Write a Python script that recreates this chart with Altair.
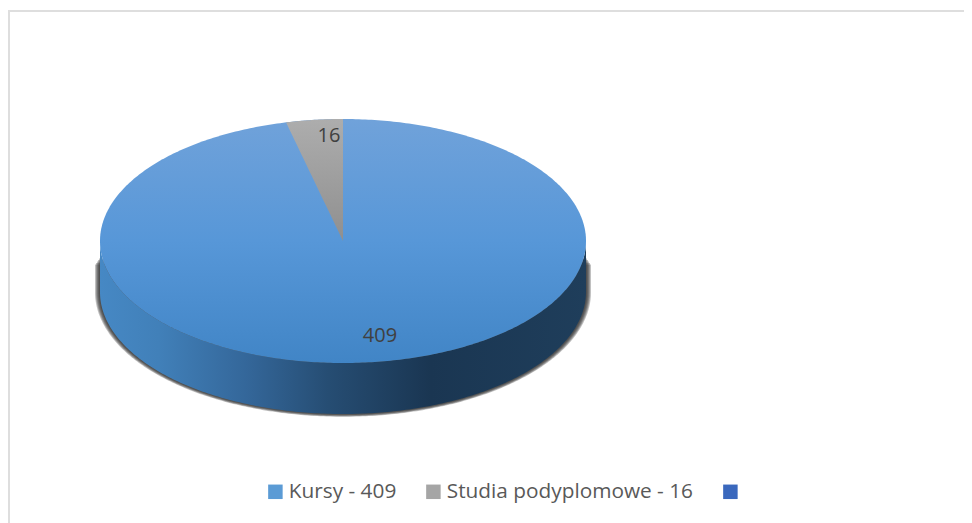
import numpy as np
import pandas as pd
import altair as alt

categories = ["Kursy - 409", "Studia podyplomowe - 16", " "]
values = [409, 16]
point_labels = ["409", "16"]
legend_colors = ["#5b9bd5", "#a5a5a5", "#3a68bd"]

W, H = 956, 515
CX, CY = 335, 233      # pie centre in the plot area
RX, RY, DEPTH = 243, 122, 51

xs = alt.Scale(domain=[-CX, W - CX], nice=False, zero=False)
ys = alt.Scale(domain=[CY - H, CY], nice=False, zero=False)
X = alt.X("x:Q", scale=xs, axis=None)
Y = alt.Y("y:Q", scale=ys, axis=None)

wedge_angle = 2 * np.pi * values[1] / sum(values)
t = np.linspace(-np.pi / 2, np.pi / 2, 241)

top = pd.DataFrame({
    "x": RX * np.sin(t),
    "y": RY * np.cos(t),
    "y2": -RY * np.cos(t),
})
side = pd.DataFrame({
    "x": RX * np.sin(t),
    "y": -RY * np.cos(t),
    "y2": -RY * np.cos(t) - DEPTH,
})
a = np.linspace(-wedge_angle, 0, 41)
wedge = pd.DataFrame({
    "x": RX * np.sin(a),
    "y": RY * np.cos(a),
    "y2": RY * np.cos(wedge_angle) * (-np.sin(a) / np.sin(wedge_angle)),
})

def area(df, fill, opacity=1.0):
    return alt.Chart(df).mark_area(color=fill, opacity=opacity, line=False, strokeWidth=0).encode(
        x=X, y=Y, y2=alt.Y2("y2:Q"))

def grad(stops, x2=0, y2=1):
    return alt.Gradient(
        gradient="linear", x1=0, y1=0, x2=x2, y2=y2,
        stops=[alt.GradientStop(color=c, offset=o) for o, c in stops])

shadows = []
for d in [5, 4, 3, 2, 1]:
    sh = pd.DataFrame({
        "x": (RX + d) * np.sin(t),
        "y": -(16 + d * 1.5) + 0 * t,
        "y2": -(RY + d * 0.55) * np.cos(t) - DEPTH,
    })
    shadows.append(area(sh, "#303030", 0.3))

side_layer = area(side, grad([
    (0.0, "#4688c4"), (0.12, "#4180b9"), (0.3, "#34679a"), (0.47, "#264d73"),
    (0.68, "#1a3652"), (1.0, "#1f3e5b")], x2=1, y2=0))
top_layer = area(top, grad([(0.0, "#70a2da"), (0.5, "#5797d8"), (1.0, "#4185c6")]))
wedge_layer = area(wedge, grad([(0.0, "#adadad"), (1.0, "#8f8f8f")]))

label_df = pd.DataFrame({"x": [37, -14], "y": [-95, 105], "t": point_labels})
labels = alt.Chart(label_df).mark_text(
    font="Open Sans", fontSize=20, color="#404040", align="center", baseline="middle"
).encode(x=X, y=Y, text="t:N")

frame_top = alt.Chart(pd.DataFrame({"x": [-CX], "x2": [W - CX], "y": [CY - 3]})).mark_rule(
    color="#dedede", strokeWidth=2).encode(x=X, x2="x2:Q", y=Y)
frame_left = alt.Chart(pd.DataFrame({"x": [-CX + 1], "y": [CY - 3], "y2": [CY - H]})).mark_rule(
    color="#dedede", strokeWidth=2).encode(x=X, y=Y, y2="y2:Q")

legend_layer = alt.Chart(pd.DataFrame({
    "x": [0, 0, 0], "y": [0, 0, 0], "c": categories})).mark_square(size=0, opacity=0).encode(
    x=X, y=Y,
    color=alt.Color("c:N", scale=alt.Scale(domain=categories, range=legend_colors), legend=alt.Legend(
        title=None, orient="none", legendX=257, legendY=473, direction="horizontal",
        symbolType="square", symbolSize=210, symbolOpacity=1, symbolStrokeWidth=0,
        labelFont="Open Sans", labelFontSize=20.8, labelColor="#595959", labelOffset=3,
        columnPadding=26, labelLimit=400,
    )))

chart = alt.layer(
    frame_top, frame_left, *shadows, side_layer, top_layer, wedge_layer, labels, legend_layer
).properties(width=W, height=H, padding=0, autosize="none").configure_view(stroke=None)

chart.save("out.html", embed_options={"renderer": "svg", "actions": False})
